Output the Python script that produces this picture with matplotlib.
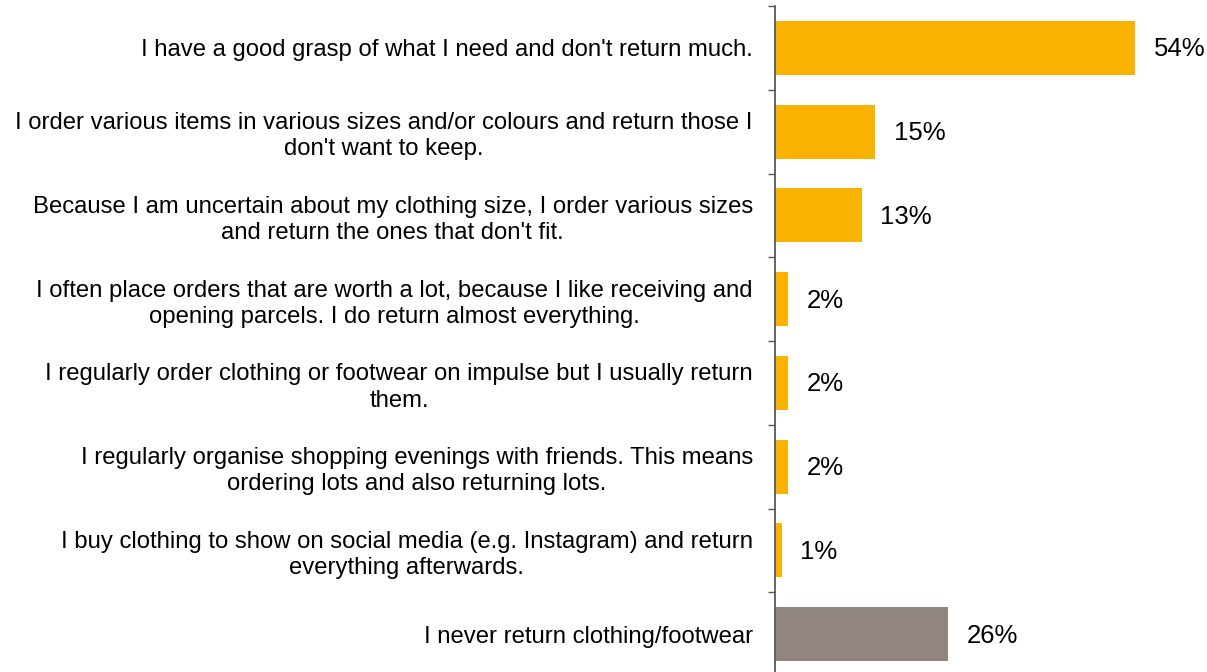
"""Horizontal bar chart of online clothing return behaviour (share of respondents)."""

import matplotlib

matplotlib.use("Agg")
import matplotlib.pyplot as plt

plt.rcParams["font.family"] = ["Liberation Sans", "DejaVu Sans"]

categories = [
    "I have a good grasp of what I need and don't return much.",
    "I order various items in various sizes and/or colours and return those I\ndon't want to keep.",
    "Because I am uncertain about my clothing size, I order various sizes\nand return the ones that don't fit.",
    "I often place orders that are worth a lot, because I like receiving and\nopening parcels. I do return almost everything.",
    "I regularly order clothing or footwear on impulse but I usually return\nthem.",
    "I regularly organise shopping evenings with friends. This means\nordering lots and also returning lots.",
    "I buy clothing to show on social media (e.g. Instagram) and return\neverything afterwards.",
    "I never return clothing/footwear",
]
shares = [54, 15, 13, 2, 2, 2, 1, 26]
never_returns = [False, False, False, False, False, False, False, True]

ORANGE = "#F9B200"
GREY = "#91857F"
AXIS = "#595959"

fig = plt.figure(figsize=(12.07, 6.72), dpi=100)
ax = fig.add_axes([775 / 1207, -4 / 672, 400 / 1207, 670 / 672])

positions = list(range(len(categories)))
colors = [GREY if n else ORANGE for n in never_returns]
bars = ax.barh(positions, shares, height=0.645, color=colors)

for bar, v in zip(bars, shares):
    ax.annotate(
        f"{v}%",
        (bar.get_width(), bar.get_y() + bar.get_height() / 2),
        xytext=(13.5, -1),
        textcoords="offset points",
        va="center",
        ha="left",
        fontsize=18.5,
        color="black",
    )

ax.set_xlim(0, 60)
ax.set_ylim(len(categories) - 0.5, -0.5)

# tick marks at the category boundaries, labels at the bar centres
ax.set_yticks([i - 0.5 for i in range(len(categories) + 1)])
ax.set_yticklabels([])
ax.tick_params(axis="y", which="major", length=5, width=1, color=AXIS, direction="out")
ax.set_yticks(positions, minor=True)
ax.set_yticklabels(categories, minor=True, fontsize=17.2)
ax.tick_params(axis="y", which="minor", length=0, pad=16)
for lbl in ax.get_yticklabels(minor=True):
    lbl.set_multialignment("center")
    lbl.set_linespacing(1.25)

ax.set_xticks([])
for side in ("top", "right", "bottom"):
    ax.spines[side].set_visible(False)
ax.spines["left"].set_color(AXIS)
ax.spines["left"].set_linewidth(1.3)

fig.savefig("out.png", dpi=100)
plt.close(fig)
